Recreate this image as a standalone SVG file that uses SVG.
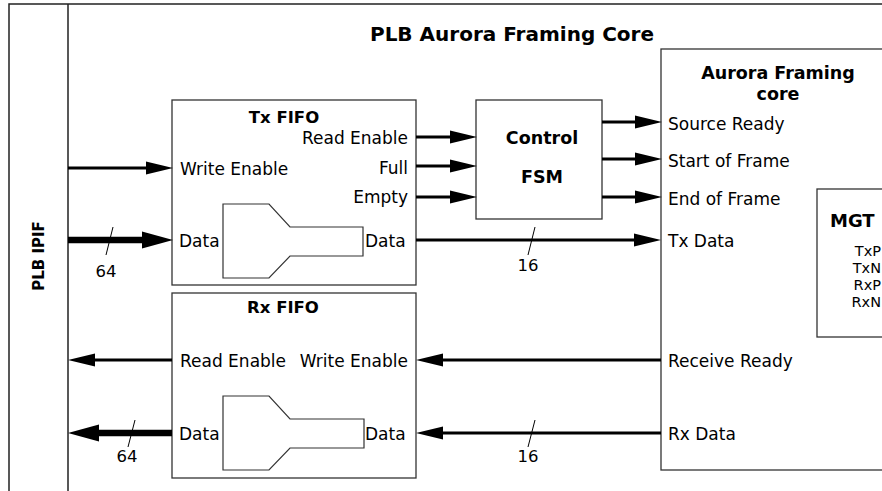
<svg xmlns="http://www.w3.org/2000/svg" width="882" height="491" viewBox="0 0 882 491">
<style>
.frame{stroke:#222;stroke-width:1.5;fill:none}
.box{fill:#fff;stroke:#333;stroke-width:1.3}
.funnel{fill:#fff;stroke:#333;stroke-width:1.2}
.w{stroke:#000;stroke-width:3;fill:none}
.wb{stroke:#000;stroke-width:6.5;fill:none}
.sl{stroke:#000;stroke-width:1;fill:none}
text{font-family:"DejaVu Sans","Liberation Sans",sans-serif;fill:#000}
.lbl{font-size:17px}
.b{font-weight:bold}
.n{font-size:16.5px}
.e{text-anchor:end}
.m{text-anchor:middle}
.pin{font-size:14.5px}
</style>
<defs>
<marker id="ah" markerUnits="userSpaceOnUse" markerWidth="27" markerHeight="14" refX="0" refY="7" orient="auto"><path d="M0,0.5 L27,7 L0,13.5 Z" fill="#000"/></marker>
<marker id="ahb" markerUnits="userSpaceOnUse" markerWidth="31" markerHeight="18" refX="0" refY="9" orient="auto"><path d="M0,0.5 L31,9 L0,17.5 Z" fill="#000"/></marker>
</defs>
<rect width="882" height="491" fill="#fff"/>
<g id="frame">
<path class="frame" d="M9,491 V4 H882 M68,4 V491"/>
<text class="b" font-size="15" transform="translate(44,256) rotate(-90)" text-anchor="middle">PLB IPIF</text>
<text class="b m" font-size="20" x="512" y="41">PLB Aurora Framing Core</text>
</g>
<g id="tx-fifo">
<rect class="box" x="172" y="100" width="244" height="185"/>
<path class="funnel" d="M223,204 H269 L290,227 H363 V256 H290 L269,278 H223 Z"/>
<text class="b m" font-size="16.5" x="284" y="123">Tx FIFO</text>
<text class="lbl e" x="408" y="144">Read Enable</text>
<text class="lbl e" x="408" y="174">Full</text>
<text class="lbl e" x="408" y="203">Empty</text>
<text class="lbl" x="180" y="175">Write Enable</text>
<text class="lbl" x="179" y="247">Data</text>
<text class="lbl" x="365" y="247">Data</text>
</g>
<g id="rx-fifo">
<rect class="box" x="172" y="293" width="244" height="185"/>
<path class="funnel" d="M223,396 H269 L290,419 H364 V448 H290 L269,470 H223 Z"/>
<text class="b m" font-size="16.5" x="283" y="313">Rx FIFO</text>
<text class="lbl" x="180" y="367">Read Enable</text>
<text class="lbl e" x="408" y="367">Write Enable</text>
<text class="lbl" x="179" y="440">Data</text>
<text class="lbl" x="365" y="440">Data</text>
</g>
<g id="control-fsm">
<rect class="box" x="476" y="100" width="126" height="119"/>
<text class="b m" font-size="17.5" x="542" y="144">Control</text>
<text class="b m" font-size="17.5" x="542" y="183">FSM</text>
</g>
<g id="aurora-core">
<rect class="box" x="661" y="49" width="240" height="421"/>
<text class="b m" font-size="17.5" x="778" y="79">Aurora Framing</text>
<text class="b m" font-size="17.5" x="778" y="100">core</text>
<text class="lbl" x="668" y="130">Source Ready</text>
<text class="lbl" x="668" y="167">Start of Frame</text>
<text class="lbl" x="668" y="205">End of Frame</text>
<text class="lbl" x="668" y="247">Tx Data</text>
<text class="lbl" x="668" y="367">Receive Ready</text>
<text class="lbl" x="668" y="440">Rx Data</text>
</g>
<g id="mgt">
<rect class="box" x="817" y="189" width="80" height="148"/>
<text class="b" font-size="18" x="830" y="227">MGT</text>
<text class="pin e" x="881" y="256">TxP</text>
<text class="pin e" x="881" y="273">TxN</text>
<text class="pin e" x="881" y="290">RxP</text>
<text class="pin e" x="881" y="307">RxN</text>
</g>
<g id="connectors">
<line class="w" x1="68" y1="168" x2="146" y2="168" marker-end="url(#ah)"/>
<line class="wb" x1="68" y1="240" x2="142" y2="240" marker-end="url(#ahb)"/>
<line class="w" x1="416" y1="137" x2="450" y2="137" marker-end="url(#ah)"/>
<line class="w" x1="416" y1="166" x2="450" y2="166" marker-end="url(#ah)"/>
<line class="w" x1="416" y1="197" x2="450" y2="197" marker-end="url(#ah)"/>
<line class="w" x1="602" y1="122" x2="635" y2="122" marker-end="url(#ah)"/>
<line class="w" x1="602" y1="159" x2="635" y2="159" marker-end="url(#ah)"/>
<line class="w" x1="602" y1="197" x2="635" y2="197" marker-end="url(#ah)"/>
<line class="w" x1="416" y1="240" x2="634" y2="240" marker-end="url(#ah)"/>
<line class="w" x1="661" y1="360" x2="443" y2="360" marker-end="url(#ah)"/>
<line class="w" x1="661" y1="433" x2="443" y2="433" marker-end="url(#ah)"/>
<line class="w" x1="172" y1="360" x2="95" y2="360" marker-end="url(#ah)"/>
<line class="wb" x1="172" y1="433" x2="99" y2="433" marker-end="url(#ahb)"/>
<path class="sl" d="M113,227 L106,255 M135,420 L128,447 M535,227 L528,255 M535,420 L528,447"/>
<text class="n m" x="106" y="277">64</text>
<text class="n m" x="127" y="462">64</text>
<text class="n m" x="528" y="271">16</text>
<text class="n m" x="528" y="462">16</text>
</g>
</svg>
